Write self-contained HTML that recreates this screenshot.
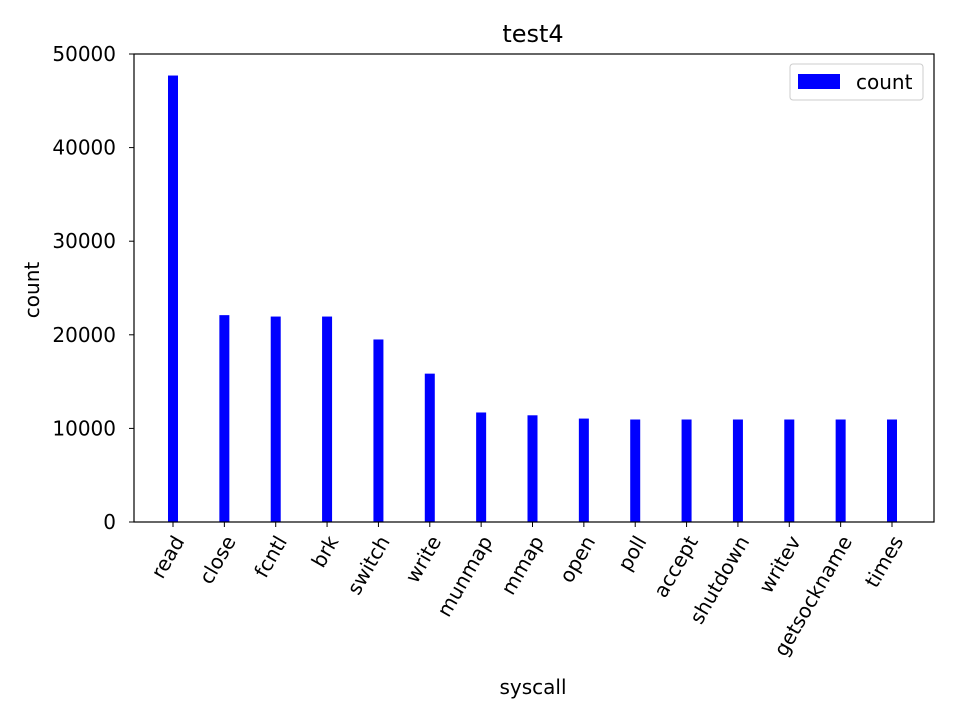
<!DOCTYPE html>
<html><head><meta charset="utf-8"><style>
body{margin:0;background:#fff;font-family:"DejaVu Sans","Liberation Sans",sans-serif;}
</style></head><body>
<svg width="960" height="720" xmlns="http://www.w3.org/2000/svg" font-family="DejaVu Sans, Liberation Sans, sans-serif">
<rect width="960" height="720" fill="#fff"/>
<text x="533" y="42" font-size="24" text-anchor="middle">test4</text>
<g id="bars"></g>
<g id="yticks"></g>
<g id="xticks"></g>
<rect x="134" y="54" width="800" height="468" fill="none" stroke="#000" stroke-width="1.2"/>
<text x="533" y="694" font-size="20" text-anchor="middle">syscall</text>
<text transform="translate(39,290) rotate(-90)" font-size="20" text-anchor="middle">count</text>
<g>
<rect x="790" y="64" width="133" height="36" fill="#fff" stroke="#ccc" rx="3"/>
<rect x="798" y="74" width="42" height="15" fill="#0000ff"/>
<text x="856" y="89" font-size="20">count</text>
</g>
</svg>
<script>
const categories=["read","close","fcntl","brk","switch","write","munmap","mmap","open","poll","accept","shutdown","writev","getsockname","times"];
const counts=[47700,22100,21950,21950,19500,15850,11700,11400,11050,10950,10950,10950,10950,10950,10950];
const yTicks=[0,10000,20000,30000,40000,50000];
const NS="http://www.w3.org/2000/svg";
function y(v){return 522-v*468/50000;}
function x(i){return 173+i*(892-173)/(categories.length-1);}
const bars=document.getElementById('bars'),yt=document.getElementById('yticks'),xt=document.getElementById('xticks');
function mk(t,a){const e=document.createElementNS(NS,t);for(const k in a)e.setAttribute(k,a[k]);return e;}
counts.forEach((v,i)=>{
const r=mk('rect',{x:x(i)-5,y:y(v),width:10,height:y(0)-y(v),fill:'#0000ff'});


bars.appendChild(r);
const l=mk('line',{x1:x(i),x2:x(i),y1:522,y2:527,stroke:'#000'});


xt.appendChild(l);
const t=mk('text',{transform:`translate(${x(i)+12},${541}) rotate(-60)`,'font-size':20,'text-anchor':'end'});
t.textContent=categories[i];


xt.appendChild(t);
});
yTicks.forEach(v=>{
const l=mk('line',{x1:129,x2:134,y1:y(v),y2:y(v),stroke:'#000'});


yt.appendChild(l);
const t=mk('text',{x:116,y:y(v)+7,'font-size':20,'text-anchor':'end'});
t.textContent=v;


yt.appendChild(t);
});
</script>
</body></html>
